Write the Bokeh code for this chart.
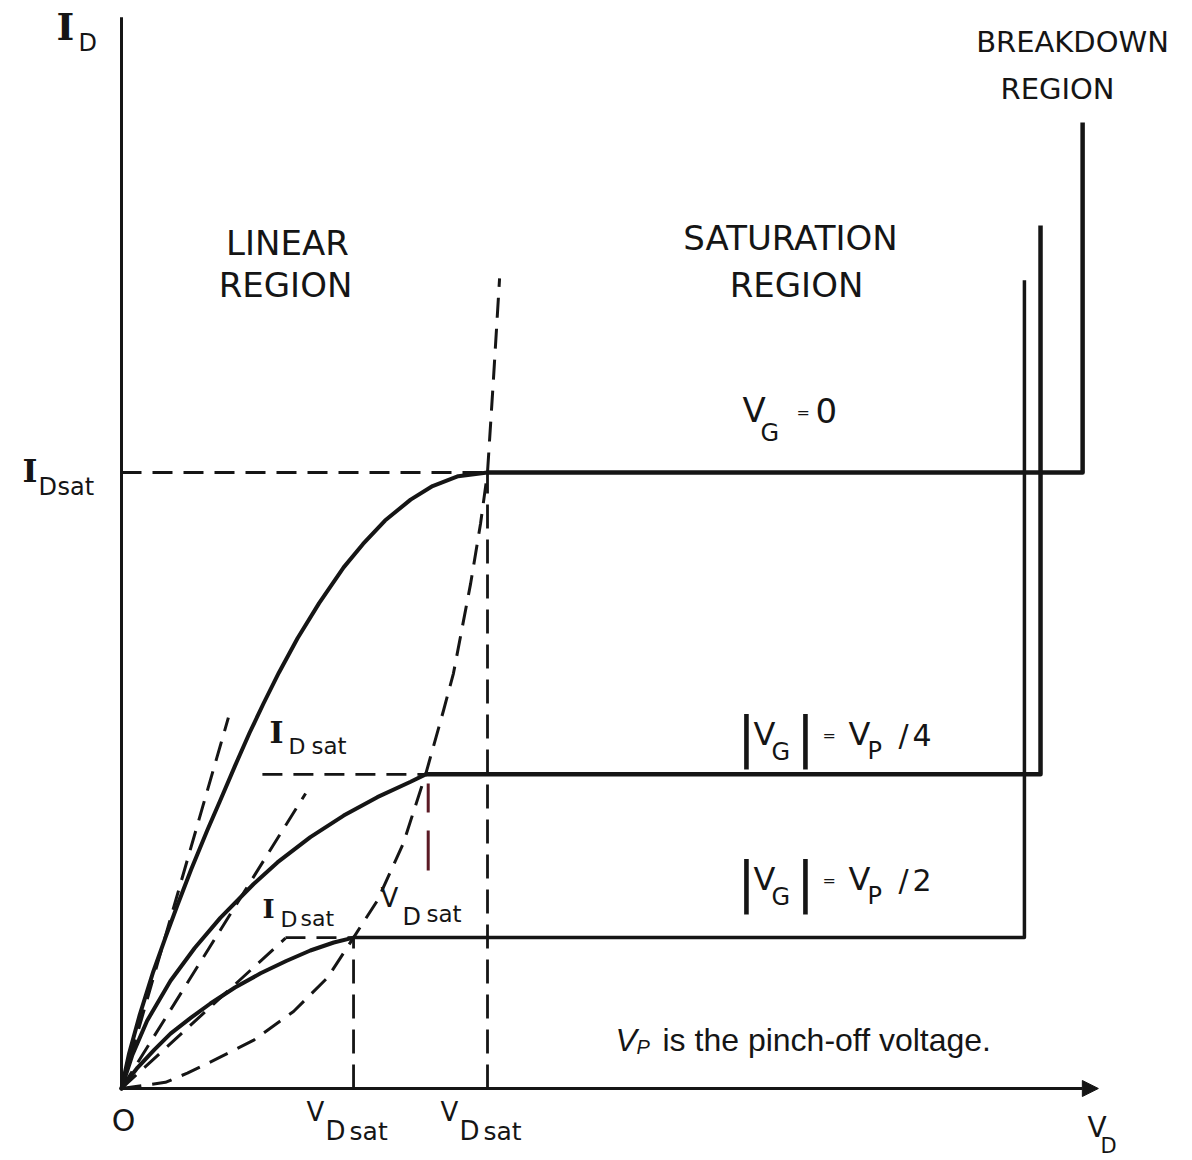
from bokeh.plotting import figure
from bokeh.models import Range1d, Label, Arrow, NormalHead
from bokeh.embed import file_html
from bokeh.resources import INLINE

W, H = 1192, 1160

# Drain voltage V_D normalised to V_Dsat at V_G = 0, drain current I_D to I_Dsat at V_G = 0.

# Linear-region curves, one per gate voltage
vd_vg0 = [0.0, 0.02, 0.05, 0.087, 0.12, 0.153, 0.19, 0.235, 0.27, 0.311, 0.35, 0.388,
          0.43, 0.481, 0.54, 0.607, 0.66, 0.72, 0.79, 0.85, 0.92, 1.0]
id_vg0 = [0.0, 0.055, 0.12, 0.19, 0.245, 0.298, 0.355, 0.42, 0.468, 0.525, 0.5775, 0.625,
          0.675, 0.731, 0.788, 0.846, 0.884, 0.922, 0.956, 0.978, 0.994, 1.0]

vd_vp4 = [0.0, 0.03, 0.07, 0.134, 0.2, 0.27, 0.361, 0.426, 0.516, 0.607, 0.699, 0.79, 0.831]
id_vp4 = [0.0, 0.055, 0.11, 0.175, 0.228, 0.277, 0.332, 0.367, 0.408, 0.443, 0.473, 0.498, 0.510]

vd_vp2 = [0.0, 0.044, 0.09, 0.134, 0.19, 0.243, 0.31, 0.38, 0.45, 0.516, 0.58, 0.634]
id_vp2 = [0.0, 0.034, 0.063, 0.089, 0.115, 0.138, 0.164, 0.187, 0.207, 0.224, 0.237, 0.245]

# Pinch-off locus (V_D = V_Dsat)
vd_pinch = [0.0, 0.12, 0.18, 0.26, 0.36, 0.47, 0.563, 0.634, 0.699, 0.770, 0.831,
            0.880, 0.907, 0.954, 0.981, 1.0, 1.016, 1.033]
id_pinch = [0.0, 0.010, 0.025, 0.048, 0.078, 0.125, 0.180, 0.245, 0.305, 0.398, 0.510,
            0.614, 0.674, 0.820, 0.917, 1.0, 1.149, 1.315]

# Saturation points for V_G = 0, |V_G| = V_P/4, |V_G| = V_P/2
sat_vd = [1.0, 0.831, 0.634]
sat_id = [1.0, 0.510, 0.245]

# Breakdown voltage and the height of each breakdown rise
bd_vd = [2.626, 2.511, 2.467]
bd_id = [1.568, 1.401, 1.312]

# Initial-slope (ohmic) tangents: end point of each dashed line from the origin
tan_vd = [0.292, 0.503, 0.448]
tan_id = [0.602, 0.479, 0.244]

# Start of the dashed I_Dsat guides
guide_vd0 = [0.0, 0.385, 0.448]

# Axis extents
vd_axis_end = 2.669
id_axis_end = 1.739

X0, X1 = -121 / 366, (W - 121) / 366
Y0, Y1 = -(H - 1088) / 616, 1088 / 616

p = figure(width=W, height=H, x_range=Range1d(X0, X1), y_range=Range1d(Y0, Y1),
           output_backend="svg", toolbar_location=None,
           x_axis_location=None, y_axis_location=None, min_border=0)
p.grid.visible = False
p.outline_line_color = None
p.background_fill_color = "white"
p.border_fill_color = "white"

INK = "#151515"
DASH = "20 11"

# axes
p.line([0, 0], [0, id_axis_end], line_color=INK, line_width=3)
p.add_layout(Arrow(end=NormalHead(size=16, fill_color=INK, line_color=INK),
                   x_start=0, y_start=0, x_end=vd_axis_end, y_end=0,
                   line_color=INK, line_width=3))

# dashed constructions
p.line(vd_pinch, id_pinch, line_color=INK, line_width=3, line_dash=DASH, line_join="round")
for tx, ty in zip(tan_vd, tan_id):
    p.line([0, tx], [0, ty], line_color=INK, line_width=3, line_dash=DASH)
for x0, sx, sy in zip(guide_vd0, sat_vd, sat_id):
    p.line([x0, sx], [sy, sy], line_color=INK, line_width=2.8, line_dash=DASH)
p.line([sat_vd[0], sat_vd[0]], [0, sat_id[0]], line_color=INK, line_width=2.8, line_dash="24 11")
p.line([sat_vd[2], sat_vd[2]], [0, sat_id[2]], line_color=INK, line_width=2.8, line_dash="24 11")
p.line([sat_vd[1] + 0.007, sat_vd[1] + 0.007], [0.354, sat_id[1] - 0.015],
       line_color="#5b1a25", line_width=3, line_dash="40 18")

# linear-region curves
for xs, ys in ((vd_vg0, id_vg0), (vd_vp4, id_vp4), (vd_vp2, id_vp2)):
    p.line(xs, ys, line_color=INK, line_width=4, line_join="round", line_cap="round")

# saturation and breakdown
for sx, sy, bx, by, lw in zip(sat_vd, sat_id, bd_vd, bd_id, (4.5, 4.5, 3.5)):
    p.line([sx, bx, bx], [sy, sy, by], line_color=INK, line_width=lw, line_join="round")


def sx_(xp):
    return (xp - 121) / 366


def sy_(yp):
    return (1088 - yp) / 616


def put(text, xp, yp, size, font="DejaVu Sans", align="left", style="normal"):
    # yp is the wanted baseline; the label box is anchored on its middle
    p.add_layout(Label(x=sx_(xp), y=sy_(yp - 0.38 * size), text=text, text_font=font,
                       text_font_size=f"{size}px", text_font_style=style,
                       text_color=INK, text_align=align, text_baseline="alphabetic"))


SERIF = "DejaVu Serif"

# region titles
put("LINEAR", 287, 255, 34, align="center")
put("REGION", 285, 297, 34, align="center")
put("SATURATION", 790, 250, 34, align="center")
put("REGION", 796, 297, 34, align="center")
put("BREAKDOWN", 1072, 53, 29, align="center")
put("REGION", 1057, 100, 29, align="center")

# axis titles
put("I", 56, 40, 38, font=SERIF, style="bold")
put("D", 78, 52, 24)
put("V", 1087, 1138, 28)
put("D", 1100, 1153, 21)
put("O", 123, 1131, 30, align="center")

# I_Dsat on the current axis
put("I", 22, 483, 32, font=SERIF, style="bold")
put("D", 38, 496, 24)
put("sat", 57, 496, 24)

# V_Dsat on the voltage axis
for vx in (sat_vd[2], sat_vd[0]):
    x_px = 121 + vx * 366
    put("V", x_px - 47, 1121, 26)
    put("D", x_px - 28, 1140, 26)
    put("sat", x_px - 4, 1140, 25)

# inner labels
put("I", 269, 743, 30, font=SERIF, style="bold")
put("D", 288, 754, 22)
put("sat", 311, 754, 23)
put("I", 262, 918, 26, font=SERIF, style="bold")
put("D", 280, 927, 22)
put("sat", 300, 926, 22)
put("V", 380, 907, 26)
put("D", 402, 926, 24)
put("sat", 426, 922, 23)

# gate voltage labels
put("V", 742, 422, 34)
put("G", 760, 442, 24)
put("=", 796, 418, 16)
put("0", 815, 423, 34)

for base, bar_base, frac in ((746, 757, "4"), (891, 902, "2")):
    put("|", 746, bar_base, 56, align="center")
    put("V", 753, base, 32)
    put("G", 771, base + 15, 24)
    put("|", 805, bar_base, 56, align="center")
    put("=", 822, base - 5, 16)
    put("V", 848, base, 32)
    put("P", 867, base + 14, 24)
    put("/", 898, base, 30)
    put(frac, 912, base, 30)

# footnote
put("V", 615, 1052, 32, font="Liberation Sans", style="italic")
put("P", 636, 1054, 20, font="Liberation Sans", style="italic")
put("is the pinch-off voltage.", 662, 1052, 32, font="Liberation Sans")

open("out.html", "w").write(file_html(p, INLINE))
